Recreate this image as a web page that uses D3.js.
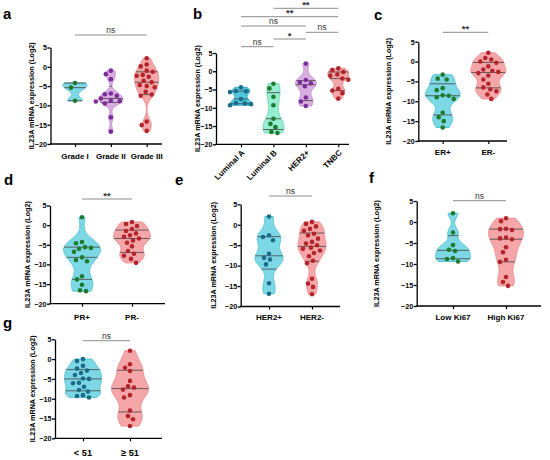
<!DOCTYPE html>
<html>
<head>
<meta charset="utf-8">
<script src="https://cdn.jsdelivr.net/npm/d3@7"></script>
<style>
body { margin: 0; background: #fff; }
text { font-family: "Liberation Sans", Arial, sans-serif; }
</style>
</head>
<body>
<svg id="fig" width="550" height="460"></svg>
<script>
// values (log2 expression)
var yTicks = [5, 0, -5, -10, -15, -20];
var yLabel = "IL23A mRNA expression (Log2)";

var gradeCats = ["Grade I", "Grade II", "Grade III"];
var gradeI = [-4.2, -5.4, -8.8];
var gradeII = [-1.0, -1.9, -3.2, -6.9, -7.1, -7.5, -8.2, -8.8, -8.9, -9.0, -9.5, -13.1, -16.8];
var gradeIII = [2.2, 0.6, 0.1, -1.0, -1.3, -2.1, -2.3, -2.6, -3.6, -4.0, -4.7, -5.0, -5.3, -6.5, -7.2, -7.5, -14.2, -15.1, -16.6];
var gradeSig = [["Grade I", "Grade III", "ns"]];

var subtypeCats = ["Luminal A", "Luminal B", "HER2+", "TNBC"];
var luminalA = [-4.4, -5.4, -5.5, -5.7, -7.6, -8.7, -8.8, -9.0, -9.3];
var luminalB = [-3.4, -4.7, -7.0, -9.3, -13.0, -14.4, -15.3, -16.6, -16.9];
var her2Type = [2.1, -2.4, -3.0, -3.3, -4.1, -7.2, -8.3, -9.5];
var tnbc = [0.8, 0.3, -0.2, -0.9, -1.2, -2.0, -2.3, -4.8, -5.3, -6.0, -7.5];
var subtypeSig = [["Luminal B", "TNBC", "**"], ["Luminal A", "TNBC", "**"], ["Luminal A", "HER2+", "ns"],
                  ["HER2+", "TNBC", "ns"], ["Luminal B", "HER2+", "*"], ["Luminal A", "Luminal B", "ns"]];

var erCats = ["ER+", "ER-"];
var erPos = [-3.3, -4.3, -4.5, -6.7, -7.2, -8.5, -8.6, -9.0, -9.4, -12.9, -14.0, -15.0, -16.6];
var erNeg = [2.2, 0.9, 0.5, 0.0, -0.3, -1.2, -2.0, -2.3, -2.6, -2.9, -3.5, -4.5, -5.6, -6.5, -7.0, -7.5, -8.3, -9.4];
var erSig = [["ER+", "ER-", "**"]];

var prCats = ["PR+", "PR-"];
var prPos = [2.0, -4.3, -4.6, -5.6, -5.8, -6.0, -6.8, -8.2, -8.9, -9.2, -13.0, -13.8, -15.2, -16.6, -16.8];
var prNeg = [0.8, 0.3, -0.2, -1.0, -1.5, -2.1, -2.6, -3.0, -3.4, -3.9, -4.5, -5.4, -6.6, -7.3, -7.8, -8.6, -9.6];
var prSig = [["PR+", "PR-", "**"]];

var her2Cats = ["HER2+", "HER2-"];
var her2Pos = [2.0, -2.6, -3.0, -3.8, -7.1, -8.1, -8.5, -9.7, -14.3, -16.9];
var her2Neg = [0.7, 0.2, -0.4, -1.0, -1.5, -2.2, -2.6, -3.4, -4.2, -4.6, -5.0, -5.6, -5.9, -6.3, -6.9, -7.7, -8.8, -9.4, -13.2, -14.4, -15.2, -17.0];
var her2Sig = [["HER2+", "HER2-", "ns"]];

var ki67Cats = ["Low Ki67", "High Ki67"];
var ki67Low = [2.1, -2.5, -5.5, -6.6, -6.9, -8.6, -8.8, -9.4];
var ki67High = [0.9, 0.2, -1.6, -1.7, -1.9, -3.7, -3.9, -4.1, -6.0, -7.2, -9.0, -9.5, -13.1, -14.3, -15.2];
var ki67Sig = [["Low Ki67", "High Ki67", "ns"]];

var ageCats = ["< 51", "≥ 51"];
var ageLow = [0.0, -0.5, -1.7, -2.4, -2.9, -3.5, -4.0, -4.9, -5.0, -6.0, -6.1, -7.0, -7.8, -8.2, -9.1, -9.3, -9.7];
var ageHigh = [2.1, -1.3, -2.2, -3.0, -5.5, -6.9, -7.2, -7.7, -9.1, -9.7, -13.0, -14.4, -15.2, -16.9];
var ageSig = [["< 51", "≥ 51", "ns"]];

// colours
var cyan = {fill: "#7dd8e5", line: "#55c4d7"};
var cyanDeep = {fill: "#50c6dd", line: "#2fb1ca"};
var mint = {fill: "#96edd0", line: "#6cd9b4"};
var lilac = {fill: "#d8addf", line: "#c491d0"};
var pink = {fill: "#f5a6a8", line: "#ee8e91"};
var green = "#1f7a2e", purple = "#7b2d9b", red = "#b3252b", blue = "#1c6b8b";

var panels = [
  {letter: "a", lx: 3, ly: 19, cats: gradeCats, series: [gradeI, gradeII, gradeIII],
   fills: [cyan, lilac, pink], dots: [green, purple, red], sig: gradeSig, sigY: [35],
   axisX: 50.5, yTop: 47.5, yBot: 144, xEnd: 162, c0: 75, c1: 146.7, half: 12, labelX: 31, xLabY: 158.5, xFont: 8},
  {letter: "b", lx: 193, ly: 19, cats: subtypeCats, series: [luminalA, luminalB, her2Type, tnbc],
   fills: [cyanDeep, mint, lilac, pink], dots: [blue, green, purple, red], sig: subtypeSig,
   sigY: [8.3, 16.7, 26, 32.3, 39, 46.7],
   axisX: 216, yTop: 53, yBot: 144.3, xEnd: 349, c0: 241, c1: 338.3, half: 10.5, labelX: 197.5, rotate: true, xFont: 8},
  {letter: "c", lx: 374, ly: 19.5, cats: erCats, series: [erPos, erNeg],
   fills: [cyan, pink], dots: [green, red], sig: erSig, sigY: [32.3],
   axisX: 418.3, yTop: 41.7, yBot: 141, xEnd: 507, c0: 442.7, c1: 488.3, half: 17.5, labelX: 388, xLabY: 155, xFont: 8},
  {letter: "d", lx: 4, ly: 185, cats: prCats, series: [prPos, prNeg],
   fills: [cyan, pink], dots: [green, red], sig: prSig, sigY: [199],
   axisX: 50, yTop: 205.5, yBot: 303.7, xEnd: 165, c0: 82, c1: 132, half: 18.5, labelX: 27, xLabY: 319.5, xFont: 8},
  {letter: "e", lx: 175, ly: 185, cats: her2Cats, series: [her2Pos, her2Neg],
   fills: [cyan, pink], dots: [blue, red], sig: her2Sig, sigY: [196],
   axisX: 240.7, yTop: 204.3, yBot: 306.5, xEnd: 340, c0: 269, c1: 312, half: 14, labelX: 213, xLabY: 319.5, xFont: 8},
  {letter: "f", lx: 369, ly: 183, cats: ki67Cats, series: [ki67Low, ki67High],
   fills: [cyan, pink], dots: [green, red], sig: ki67Sig, sigY: [200.7],
   axisX: 416.7, yTop: 201, yBot: 306, xEnd: 541, c0: 453, c1: 506, half: 17.5, labelX: 376, xLabY: 319.5, xFont: 8},
  {letter: "g", lx: 3, ly: 328, cats: ageCats, series: [ageLow, ageHigh],
   fills: [cyan, pink], dots: [blue, red], sig: ageSig, sigY: [340.7],
   axisX: 55, yTop: 339.3, yBot: 438.3, xEnd: 162, c0: 83, c1: 130, half: 18.5, labelX: 32, xLabY: 456, xFont: 9.3}
];

var svg = d3.select("#fig");
svg.append("rect").attr("width", 550).attr("height", 460).attr("fill", "#fff");

// GraphPad style quartile: position p*(n+1)
var gpQuantile = function(vals, p)
{
  var s = vals.slice().sort(d3.ascending);
  var n = s.length, pos = p * (n + 1);
  if (pos <= 1) return s[0];
  if (pos >= n) return s[n - 1];
  var i = Math.floor(pos);
  return s[i - 1] + (pos - i) * (s[i] - s[i - 1]);
};

var density = function(vals, bw, v)
{
  return d3.mean(vals, function(d)
  {
    var z = (v - d) / bw;
    return Math.exp(-0.5 * z * z);
  }) / bw;
};

var bandwidth = function(vals)
{
  var s = vals.slice().sort(d3.ascending);
  var sd = d3.deviation(vals) || 1;
  var iqr = (d3.quantile(s, 0.75) - d3.quantile(s, 0.25)) / 1.34;
  var spread = iqr > 0 ? Math.min(sd, iqr) : sd;
  return Math.max(1.0, 0.7 * 0.9 * spread * Math.pow(vals.length, -0.2));
};

// deterministic swarm: each dot moves sideways until it clears the ones placed
var swarm = function(vals, y, cx, r)
{
  var placed = [];
  vals.slice().sort(d3.descending).forEach(function(v)
  {
    var py = y(v);
    for (var k = 0; k < 60; k++)
    {
      var dx = (k % 2 === 0 ? 1 : -1) * Math.ceil(k / 2);
      var ok = placed.every(function(p)
      {
        return Math.hypot(p.x - (cx + dx), p.y - py) >= 2 * r + 1.2;
      });
      if (ok) { placed.push({x: cx + dx, y: py}); break; }
    }
  });
  return placed;
};

var drawPanel = function(p)
{
  var g = svg.append("g");
  var y = d3.scaleLinear().domain([-20, 5]).range([p.yBot, p.yTop]);
  var x = d3.scalePoint().domain(p.cats).range([p.c0, p.c1]);

  // panel letter
  g.append("text").attr("x", p.lx).attr("y", p.ly)
   .attr("font-size", 15).attr("font-weight", "bold").text(p.letter);

  // y axis
  var ya = g.append("g").attr("transform", "translate(" + p.axisX + ",0)")
            .call(d3.axisLeft(y).tickValues(yTicks).tickSize(3).tickSizeOuter(0).tickPadding(0.5));
  ya.select(".domain").attr("stroke-width", 1.3);
  ya.selectAll(".tick line").attr("stroke-width", 1.3);
  ya.selectAll(".tick text").attr("font-size", 7.2).attr("font-weight", "bold")
    .attr("font-family", "Liberation Sans, Arial, sans-serif");

  g.append("text")
   .attr("transform", "translate(" + p.labelX + "," + ((p.yTop + p.yBot) / 2) + ") rotate(-90)")
   .attr("text-anchor", "middle").attr("dy", "0.35em")
   .attr("font-size", 7.2).attr("font-weight", "bold").text(yLabel);

  // x axis
  var xa = g.append("g").attr("transform", "translate(0," + p.yBot + ")")
            .call(d3.axisBottom(x).tickSize(3).tickSizeOuter(0));
  xa.select(".domain").attr("d", "M" + (p.axisX - 0.65) + ",0H" + p.xEnd).attr("stroke-width", 1.3);
  xa.selectAll(".tick line").attr("stroke-width", 1.2);
  xa.selectAll(".tick text").remove();

  if (p.rotate)
  {
    g.selectAll(".xlab").data(p.cats).enter().append("text")
     .attr("transform", function(d) { return "translate(" + (x(d) + 2) + "," + (p.yBot + 7) + ") rotate(-45)"; })
     .attr("text-anchor", "end").attr("dy", "0.35em")
     .attr("font-size", p.xFont).attr("font-weight", "bold")
     .text(function(d) { return d; });
  }
  else
  {
    g.selectAll(".xlab").data(p.cats).enter().append("text")
     .attr("x", function(d) { return x(d); }).attr("y", p.xLabY)
     .attr("text-anchor", "middle")
     .attr("font-size", p.xFont).attr("font-weight", "bold")
     .text(function(d) { return d; });
  }

  // violins
  p.series.forEach(function(vals, i)
  {
    var cx = x(p.cats[i]);
    var bw = bandwidth(vals);
    var lo = d3.min(vals), hi = d3.max(vals);
    var steps = d3.range(lo, hi, 0.1).concat([hi]);
    var dens = steps.map(function(v) { return [v, density(vals, bw, v)]; });
    var w = d3.scaleLinear().domain([0, d3.max(dens, function(d) { return d[1]; })]).range([0, p.half]);

    var area = d3.area()
                 .x0(function(d) { return cx - w(d[1]); })
                 .x1(function(d) { return cx + w(d[1]); })
                 .y(function(d) { return y(d[0]); })
                 .curve(d3.curveBasis);

    g.append("path").datum(dens).attr("d", area)
     .attr("fill", p.fills[i].fill).attr("stroke", p.fills[i].line).attr("stroke-width", 1);

    // median and quartiles
    [0.25, 0.5, 0.75].forEach(function(q)
    {
      var v = gpQuantile(vals, q);
      var hw = w(density(vals, bw, v));
      g.append("line")
       .attr("x1", cx - hw).attr("x2", cx + hw)
       .attr("y1", y(v)).attr("y2", y(v))
       .attr("stroke", "#4d4d4d").attr("stroke-width", 1).attr("opacity", 0.85);
    });

    var pts = swarm(vals, y, cx, 2.3);
    g.selectAll(null).data(pts).enter().append("circle")
     .attr("cx", function(d) { return d.x; })
     .attr("cy", function(d) { return d.y; })
     .attr("r", 2.3)
     .attr("fill", p.dots[i]);
  });

  // significance bars
  p.sig.forEach(function(s, i)
  {
    var x1 = x(s[0]), x2 = x(s[1]), sy = p.sigY[i];
    g.append("line").attr("x1", x1).attr("x2", x2).attr("y1", sy).attr("y2", sy)
     .attr("stroke", "#8c8c8c").attr("stroke-width", 1);
    g.append("text").attr("x", (x1 + x2) / 2).attr("y", sy - (s[2] === "ns" ? 2 : 0.5))
     .attr("text-anchor", "middle")
     .attr("font-size", s[2] === "ns" ? 8.5 : 9.5)
     .attr("font-weight", s[2] === "ns" ? "normal" : "bold")
     .attr("fill", "#333")
     .text(s[2]);
  });
};

panels.forEach(drawPanel);
</script>
</body>
</html>
